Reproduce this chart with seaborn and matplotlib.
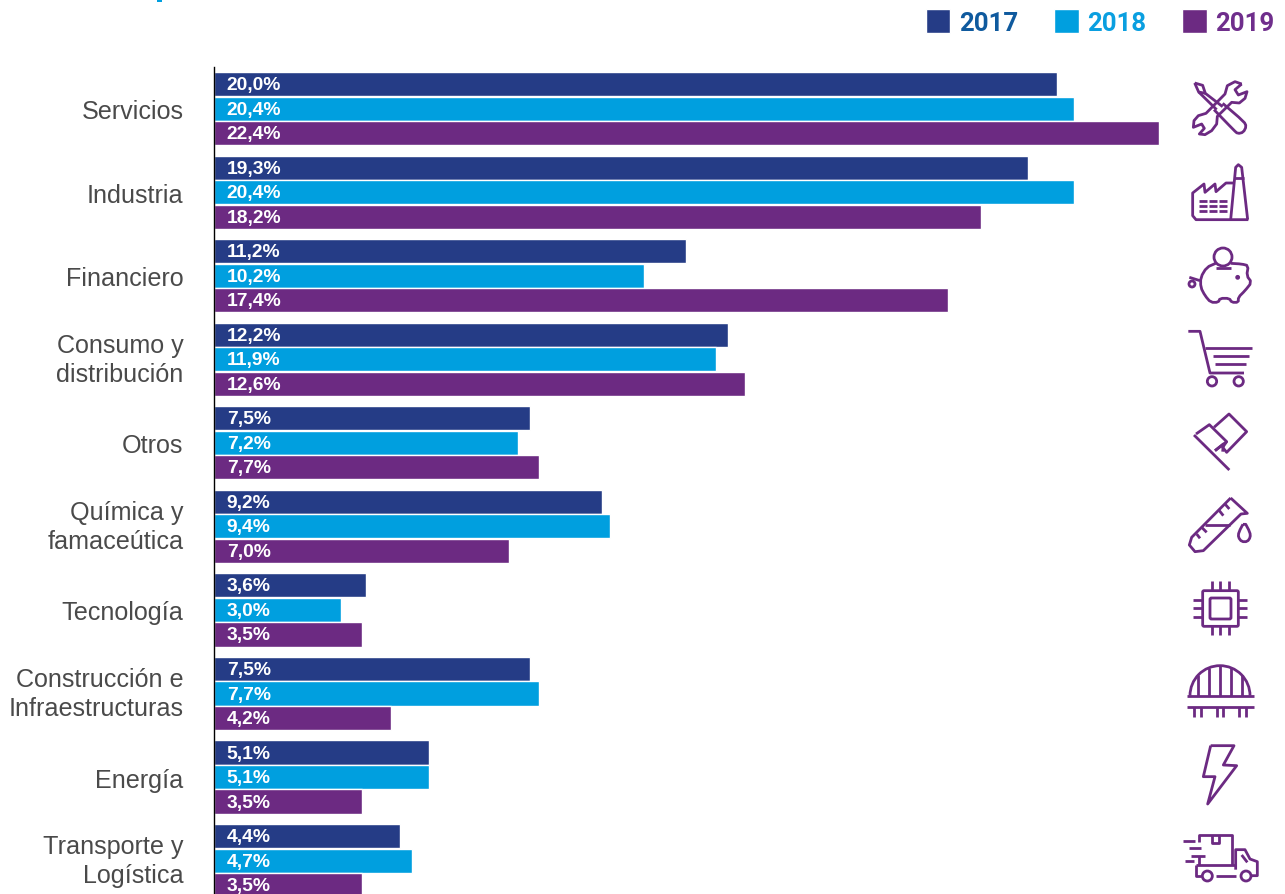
import numpy as np
import pandas as pd
import matplotlib
matplotlib.use("Agg")
import matplotlib.pyplot as plt
from matplotlib.patches import Circle, FancyBboxPatch, Arc, Rectangle
import seaborn as sns

# Sector shares by year, in percent
sectors = ["Servicios", "Industria", "Financiero", "Consumo y\ndistribución", "Otros",
           "Química y\nfamaceútica", "Tecnología", "Construcción e\nInfraestructuras",
           "Energía", "Transporte y\nLogística"]
years = ["2017", "2018", "2019"]
values_2017 = [20.0, 19.3, 11.2, 12.2, 7.5, 9.2, 3.6, 7.5, 5.1, 4.4]
values_2018 = [20.4, 20.4, 10.2, 11.9, 7.2, 9.4, 3.0, 7.7, 5.1, 4.7]
values_2019 = [22.4, 18.2, 17.4, 12.6, 7.7, 7.0, 3.5, 4.2, 3.5, 3.5]

bar_colors = ["#253c86", "#009fdf", "#6c2a82"]
legend_text_colors = ["#0f5a9e", "#0a9fe0", "#6f2e8c"]
label_gray = "#4a4a4a"
icon_color = "#6c2a82"

W, H = 1285, 895
LEFT = 214.0
sns.set_theme(style="white")
plt.rcParams["font.family"] = ["Liberation Sans", "DejaVu Sans"]

df = pd.DataFrame({
    "sector": sectors * 3,
    "year": np.repeat(years, len(sectors)),
    "value": values_2017 + values_2018 + values_2019,
})

fig = plt.figure(figsize=(W / 100, H / 100), dpi=100, facecolor="white")
ax = fig.add_axes([LEFT / W, 0, 1 - LEFT / W, 1 - 68 / H])

sns.barplot(data=df, y="sector", x="value", hue="year", order=sectors, hue_order=years,
            palette=bar_colors, orient="h", width=0.88, gap=0.015, saturation=1,
            errorbar=None, ax=ax)

ax.set_xlim(0, (W - LEFT) / 42.17)
ax.set_ylim(9.40, -0.498)
ax.set_xlabel("")
ax.set_ylabel("")
ax.set_xticks([])
sns.despine(ax=ax, top=True, right=True, bottom=True, left=False)
ax.spines["left"].set_color("black")
ax.spines["left"].set_linewidth(1.0)
ax.tick_params(axis="y", length=0, pad=22)
ax.set_yticks(range(len(sectors)))
ax.set_yticklabels(sectors, fontsize=18.1, color=label_gray, ha="right",
                   multialignment="right", linespacing=1.28)
for tick_label in ax.get_yticklabels():
    if "\n" in tick_label.get_text():
        tick_label.set_verticalalignment("center")

# White percentage labels at the base of each bar
for container in ax.containers:
    for bar in container:
        value = bar.get_width()
        ax.annotate(f"{value:.1f}%".replace(".", ","),
                    xy=(0, bar.get_y() + bar.get_height() / 2),
                    xytext=(9.2, -0.4), textcoords="offset points",
                    ha="left", va="center", color="white", fontsize=13.9,
                    fontweight="bold", annotation_clip=False)

# Year legend across the top right
handles, labels = ax.get_legend_handles_labels()
leg = ax.legend(handles, labels, ncol=3, loc="upper right", frameon=False,
                bbox_to_anchor=(1274.5 / W, 1 - 9.8 / H), bbox_transform=fig.transFigure,
                prop={"family": "Roboto", "weight": "bold", "size": 18.5},
                handlelength=0.94, handleheight=1.08, handletextpad=0.34,
                columnspacing=1.4, borderaxespad=0, borderpad=0)
for text, color in zip(leg.get_texts(), legend_text_colors):
    text.set_color(color)

# Overlay in pixel units for the sector pictograms
ov = fig.add_axes([0, 0, 1, 1], zorder=5)
ov.set_xlim(0, W)
ov.set_ylim(H, 0)
ov.axis("off")
ov.patch.set_alpha(0)
LW = 2.0

# Small blue sliver along the top edge
ov.add_patch(Rectangle((157, 0), 5, 2.6, facecolor="#009fdf", edgecolor="none"))


def chaikin(pts, closed):
    """One pass of corner cutting, softening a polyline."""
    arr = np.asarray(pts, dtype=float)
    if closed:
        arr = np.vstack([arr, arr[0]])
    out = [] if closed else [arr[0]]
    for a, b in zip(arr[:-1], arr[1:]):
        out.append(0.75 * a + 0.25 * b)
        out.append(0.25 * a + 0.75 * b)
    if not closed:
        out.append(arr[-1])
    return [tuple(p) for p in out]


def make_pen(x0, y0):
    def tx(p):
        return x0 + p[0] / 3, y0 + p[1] / 3

    def line(*pts, closed=False, soft=False):
        pts = list(pts)
        if soft:
            pts = chaikin(pts, closed)
        pts = [tx(p) for p in pts]
        if closed:
            pts.append(pts[0])
        xs, ys = zip(*pts)
        ov.plot(xs, ys, color=icon_color, lw=LW, solid_joinstyle="round", solid_capstyle="butt")

    def ring(c, r, fill=False):
        ov.add_patch(Circle(tx(c), r / 3, fill=fill, facecolor=icon_color if fill else "none",
                            edgecolor=icon_color, lw=LW))

    def box(p0, p1, rad):
        a, b = tx(p0), tx(p1)
        ov.add_patch(FancyBboxPatch(a, b[0] - a[0], b[1] - a[1],
                                    boxstyle=f"round,pad=0,rounding_size={rad}",
                                    fill=False, edgecolor=icon_color, lw=LW))

    return tx, line, ring, box


tx, line, ring, box = make_pen(1170, 70)

# Tools
line((74, 42), (98, 49), (106, 73), (158, 113))
line((74, 42), (86, 69), (106, 73))
line((86, 69), (140, 122))
line((158, 103), (222, 158), (229, 172), (220, 190), (203, 194), (192, 184), (132, 122), soft=True)
line((215, 45), (195, 62), (205, 78), (231, 68), (225, 88), (208, 102), (185, 100), (142, 142),
     (140, 165), (125, 185), (105, 197), (88, 195), (103, 178), (95, 165), (70, 175), (72, 155),
     (85, 140), (108, 133), (165, 75), (172, 50), (195, 38), closed=True)

# Factory
line((190, 342), (168, 342), (138, 368), (135, 345), (105, 370), (102, 345), (68, 372),
     (68, 440), (78, 452), (235, 452))
line((182, 452), (197, 295), (205, 287), (215, 295), (233, 452))
line((191, 328), (222, 328))
for y in (395, 410, 425):
    for xa, xb in ((88, 110), (118, 140), (148, 172)):
        line((xa, y), (xb, y))

# Piggy bank
ring((159, 564), 27)
line((137, 596), (182, 596))
line((137, 583), (110, 595), (92, 625), (92, 655), (105, 680), (122, 700), (145, 700), (150, 688),
     (178, 688), (185, 700), (205, 700), (205, 685), (225, 665), (245, 640), (230, 620),
     (235, 590), (215, 585), (182, 583), soft=True)
ring((203, 625), 3, fill=True)
ring((66, 645), 9)
line((58, 625), (90, 635))

# Shopping cart
line((55, 787), (90, 787), (120, 912), (222, 912))
line((105, 836), (247, 836))
line((130, 861), (238, 861))
line((135, 886), (228, 886))
ring((126, 937), 14)
ring((206, 937), 14)

tx, line, ring, box = make_pen(1170, 400)

# Flag
line((72, 108), (178, 213))
line((78, 105), (118, 77), (170, 128), (135, 155))
line((132, 85), (177, 45), (230, 98), (170, 160), (158, 145), (170, 128))
line((135, 155), (160, 135), (158, 158))

# Test tube and drop
line((182, 297), (65, 415), (58, 438), (75, 458), (100, 455), (213, 345), (232, 343), closed=True)
line((105, 378), (180, 378))
line((165, 315), (178, 330))
line((148, 335), (160, 350))
line((95, 385), (110, 400))
line((80, 405), (90, 418))
line((223, 368), (206, 400), (205, 415), (215, 428), (232, 428), (241, 415), (240, 400),
     closed=True, soft=True)

# Microchip
box((98, 575), (205, 682), 1.5)
box((120, 597), (183, 660), 1.5)
for x in (125, 151, 177):
    line((x, 547), (x, 575))
    line((x, 682), (x, 708))
for y in (602, 628, 654):
    line((70, y), (98, y))
    line((205, y), (232, y))

# Bridge
line((50, 890), (252, 890))
line((50, 923), (252, 923))
cx, cy = tx((150, 890))
ov.add_patch(Arc((cx, cy), 60, 60, theta1=180, theta2=360, color=icon_color, lw=LW))
for x in (85, 118, 150, 183, 215):
    top = 890 - np.sqrt(90 ** 2 - (x - 150) ** 2)
    line((x, top), (x, 890))
for x in (72, 92, 140, 160, 208, 228):
    line((x, 923), (x, 955))

# Lightning bolt
line((122, 1040), (192, 1040), (160, 1098), (200, 1100), (113, 1215), (135, 1133), (100, 1133),
     closed=True)

# Delivery truck
line((88, 1330), (88, 1308), (185, 1308), (185, 1398))
line((88, 1372), (88, 1398))
line((125, 1308), (125, 1332), (148, 1332), (148, 1308))
line((40, 1327), (76, 1327))
line((58, 1348), (92, 1348))
line((62, 1370), (105, 1370))
line((45, 1386), (72, 1386))
line((78, 1398), (197, 1398))
line((92, 1430), (78, 1430), (78, 1398))
line((138, 1430), (198, 1430))
line((245, 1430), (262, 1430), (262, 1388), (240, 1380), (225, 1352), (197, 1352), (197, 1412))
line((215, 1368), (232, 1390))
ring((112, 1431), 15)
ring((228, 1431), 15)

fig.savefig("out.png", dpi=100, facecolor="white")
